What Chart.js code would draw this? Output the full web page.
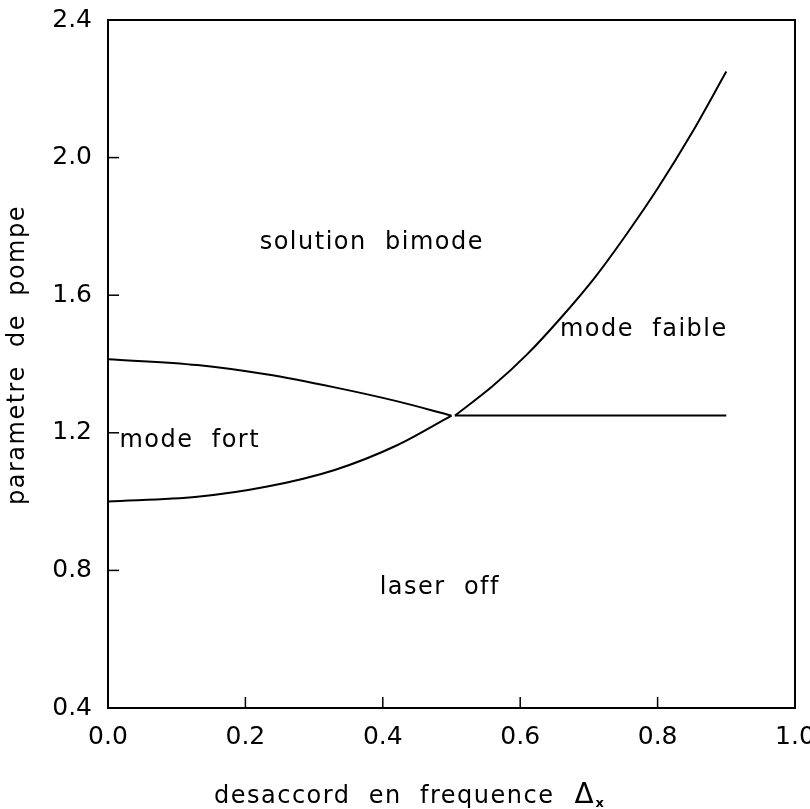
<!DOCTYPE html>
<html>
<head>
<meta charset="utf-8">
<script src="https://cdn.jsdelivr.net/npm/chart.js@4.4.1/dist/chart.umd.min.js"></script>
<style>
    html, body { margin: 0; padding: 0; background: #fff; }
    #wrap { width: 810px; height: 809px; }
</style>
</head>
<body>
<div id="wrap"><canvas id="diagram"></canvas></div>
<script>
// limites des zones (desaccord Δx, parametre de pompe)
const xTicks = [0.0, 0.2, 0.4, 0.6, 0.8, 1.0];
const yTicks = [0.4, 0.8, 1.2, 1.6, 2.0, 2.4];

// branche haute (mode fort / bimode)
const upperX = [0.0, 0.13, 0.23, 0.33, 0.42, 0.5];
const upperY = [1.414, 1.397, 1.370, 1.332, 1.292, 1.25];

// branche basse (seuil laser)
const lowerX = [0.0, 0.13, 0.23, 0.33, 0.42, 0.5];
const lowerY = [1.0, 1.014, 1.043, 1.092, 1.163, 1.25];

// courbe montante (bimode / mode faible)
const risingX = [0.505, 0.56, 0.61, 0.66, 0.71, 0.755, 0.80, 0.85, 0.9];
const risingY = [1.25, 1.336, 1.428, 1.536, 1.655, 1.778, 1.91, 2.072, 2.25];

// seuil horizontal du mode faible
const flatX = [0.505, 0.9];
const flatY = [1.25, 1.25];

// etiquettes des zones
const zoneText = ['solution bimode', 'mode faible', 'mode fort', 'laser off'];
const zoneX = [0.384, 0.78, 0.119, 0.483];
const zoneY = [1.752, 1.5, 1.176, 0.749];

const FONT = '"DejaVu Sans", sans-serif';

function toPoints(xs, ys) {
    return xs.map((x, i) => ({ x: x, y: ys[i] }));
}

function curve(xs, ys) {
    return {
        data: toPoints(xs, ys),
        borderColor: '#000',
        borderWidth: 2,
        pointRadius: 0,
        fill: false,
        cubicInterpolationMode: 'monotone'
    };
}

// cadre, graduations interieures, textes
const decorPlugin = {
    id: 'decor',
    afterDraw(chart) {
        const ctx = chart.ctx;
        const area = chart.chartArea;
        const xs = chart.scales.x;
        const ys = chart.scales.y;
        ctx.save();
        ctx.strokeStyle = '#000';
        ctx.lineWidth = 2;
        ctx.strokeRect(area.left, area.top, area.right - area.left, area.bottom - area.top);

        ctx.lineWidth = 1.5;
        xTicks.forEach(v => {
            const px = xs.getPixelForValue(v);
            ctx.beginPath();
            ctx.moveTo(px, area.bottom);
            ctx.lineTo(px, area.bottom - 11);
            ctx.stroke();
        });
        yTicks.forEach(v => {
            const py = ys.getPixelForValue(v);
            ctx.beginPath();
            ctx.moveTo(area.left, py);
            ctx.lineTo(area.left + 11, py);
            ctx.stroke();
        });

        ctx.fillStyle = '#000';
        ctx.font = '24px ' + FONT;
        ctx.letterSpacing = '1.5px';
        ctx.textAlign = 'center';
        ctx.textBaseline = 'middle';
        zoneText.forEach((t, i) => {
            ctx.fillText(t.replace(' ', '  '), xs.getPixelForValue(zoneX[i]), ys.getPixelForValue(zoneY[i]));
        });

        // titre axe y
        ctx.save();
        ctx.translate(18, 355);
        ctx.rotate(-Math.PI / 2);
        ctx.fillText('parametre  de  pompe', 0, 0);
        ctx.restore();

        // titre axe x avec Δx
        ctx.textAlign = 'left';
        ctx.textBaseline = 'alphabetic';
        const title = 'desaccord  en  frequence';
        ctx.fillText(title, 214, 803);
        const w = ctx.measureText(title).width;
        ctx.font = '28px ' + FONT;
        ctx.letterSpacing = '0px';
        ctx.fillText('Δ', 214 + w + 20, 803);
        const dw = ctx.measureText('Δ').width;
        ctx.font = 'bold 13px ' + FONT;
        ctx.fillText('x', 214 + w + 20 + dw + 2, 807);
        ctx.restore();
    }
};

new Chart(document.getElementById('diagram'), {
    type: 'line',
    data: {
        datasets: [
            curve(upperX, upperY),
            curve(lowerX, lowerY),
            curve(risingX, risingY),
            curve(flatX, flatY)
        ]
    },
    options: {
        responsive: true,
        maintainAspectRatio: false,
        animation: false,
        layout: { padding: { top: 20, right: 15, left: 0, bottom: 0 } },
        plugins: {
            legend: { display: false },
            tooltip: { enabled: false }
        },
        scales: {
            x: {
                type: 'linear',
                min: 0,
                max: 1.0,
                afterBuildTicks: s => { s.ticks = xTicks.map(v => ({ value: v })); },
                afterFit: s => { s.height = 101; s.paddingLeft = 0; s.paddingRight = 0; },
                grid: { display: false },
                border: { display: false },
                ticks: {
                    color: '#000',
                    padding: 6,
                    maxRotation: 0,
                    font: { family: FONT, size: 25 },
                    callback: v => v.toFixed(1)
                }
            },
            y: {
                type: 'linear',
                min: 0.4,
                max: 2.4,
                afterBuildTicks: s => { s.ticks = yTicks.map(v => ({ value: v })); },
                afterFit: s => { s.width = 108; s.paddingTop = 0; s.paddingBottom = 0; },
                grid: { display: false },
                border: { display: false },
                ticks: {
                    color: '#000',
                    padding: 8,
                    font: { family: FONT, size: 25 },
                    callback: v => v.toFixed(1)
                }
            }
        }
    },
    plugins: [decorPlugin]
});
</script>
</body>
</html>
